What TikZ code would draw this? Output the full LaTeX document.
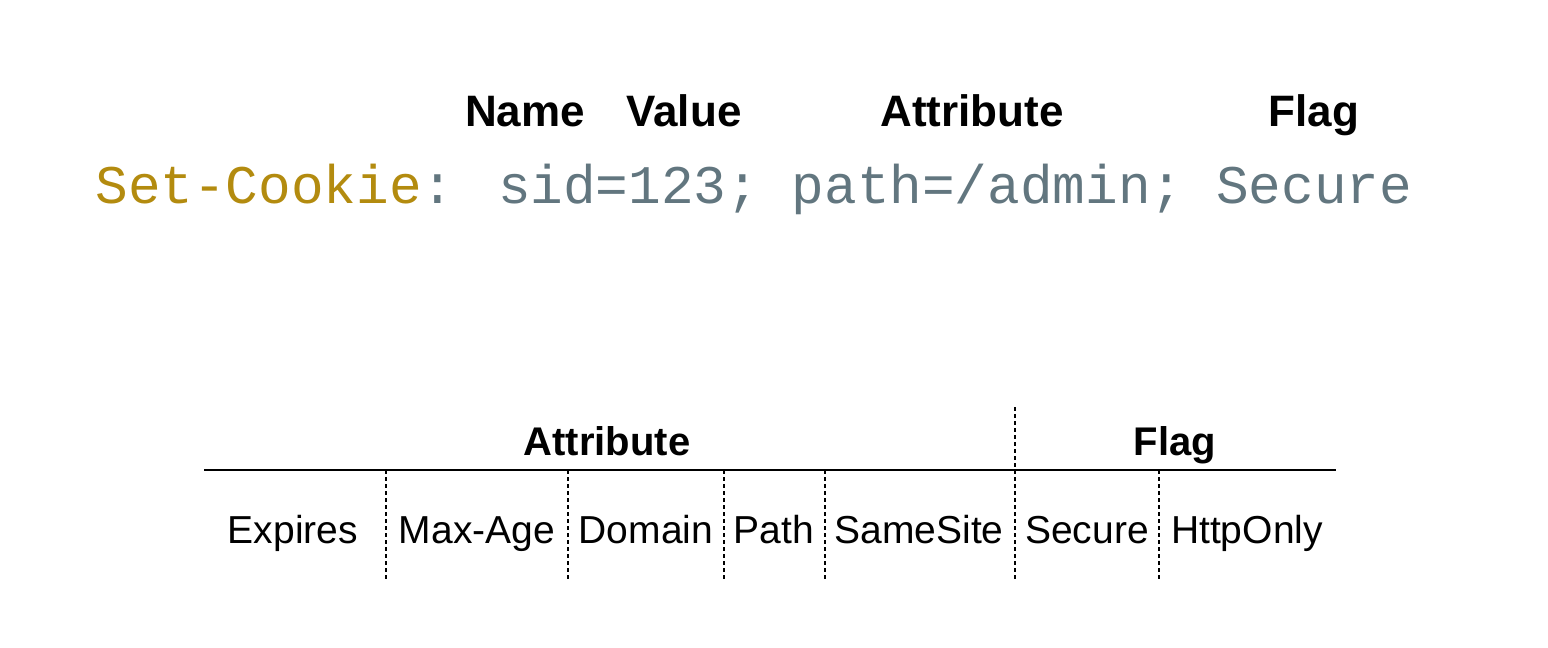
\documentclass[tikz,border=0pt]{standalone}
\usepackage{fontspec}
\setmainfont{Liberation Sans}
\newfontfamily\codefont{Liberation Mono}
\usetikzlibrary{calc}
\definecolor{cookiegold}{HTML}{B38B0F}
\definecolor{cookieslate}{HTML}{62767F}
\tikzset{%
	head/.style = {font=\fontsize{22}{24}\selectfont\bfseries,inner sep=0,anchor=base},
	subhead/.style = {font=\fontsize{20}{22}\selectfont\bfseries,inner sep=0,anchor=base},
	cell/.style = {font=\fontsize{19.5}{22}\selectfont,inner sep=0,anchor=base},
	divider/.style = {line width=0.75pt,dash pattern=on 2pt off 1.5pt}%
}
\begin{document}
\begin{tikzpicture}[x=0.5pt,y=-0.5pt]
		\useasboundingbox (0,0) rectangle (1548,648);
		
		\node(name)[head]at(525,126){Name};
		\node(value)[head]at(684,126){Value};
		\node(attr)[head]at(972,126){Attribute};
		\node(flag)[head]at(1314,126){Flag};
		\node(code)[inner sep=0,anchor=base west,font=\codefont\fontsize{27.2}{30}\selectfont]at(95,203)
		{\textcolor{cookiegold}{Set-Cookie}\textcolor{cookieslate}{: sid=123; path=/admin; Secure}};
		
		\node(attrs)[subhead]at(607,455){Attribute};
		\node(flags)[subhead]at(1175,455){Flag};
		\coordinate(l)at(204,470);
		\coordinate(r)at(1336,470);
		\draw[line width=1pt](l)--(r);
		
		\foreach \n/\x/\t in {expires/293/Expires,maxage/477/Max-Age,domain/646/Domain,path/774/Path,samesite/919/SameSite,secure/1087/Secure,httponly/1247/HttpOnly}
		{\node(\n)[cell]at(\x,543){\t};}
		
		\foreach \x in {386,568,724,825,1159}
		{\draw[divider]($(l)!0!(r)+(\x-204,0)$)--++(0,110);}
		\coordinate(split)at(1015,407);
		\draw[divider](split)--++(0,173);
		\end{tikzpicture}
\end{document}
